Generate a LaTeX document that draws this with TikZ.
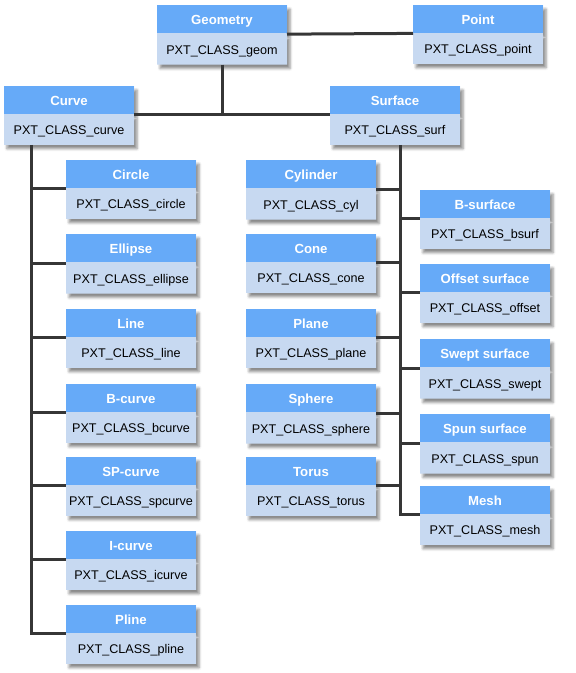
\documentclass[tikz,border=0pt]{standalone}
\usepackage{fontspec}
\setmainfont{Liberation Sans}
\usetikzlibrary{positioning,shapes.multipart,shadows.blur}

\definecolor{headblue}{RGB}{102,170,248}
\definecolor{bodyblue}{RGB}{199,217,241}
\definecolor{wiregray}{RGB}{54,54,54}
\newcommand{\headstrut}{\rule[-2pt]{0pt}{15pt}}
\newcommand{\bodystrut}{\rule[-3.5pt]{0pt}{17pt}}
\newcommand{\classlabel}[1]{{\color{black}\mdseries\fontsize{12.6}{15}\selectfont PXT\_CLASS\_#1}}

\begin{document}
\begin{tikzpicture}%
        [x=1pt,
        y=-1pt,
        wire/.style={draw=wiregray, line width=3pt},
        classbox/.style={rectangle split, rectangle split parts=2,
            fill=bodyblue, anchor=north west,
            minimum width=130pt, inner xsep=0pt, inner ysep=6.5pt, outer sep=0pt,
            text=white, font=\fontsize{13.2}{15}\selectfont\bfseries,
            path picture={\fill[headblue] (path picture bounding box.north west)
                rectangle ([yshift=-28pt]path picture bounding box.north east);},
            blur shadow={shadow xshift=3pt, shadow yshift=-4pt,
                shadow blur radius=2.5pt, shadow opacity=45}}]
    %
    \useasboundingbox (0,0) rectangle (576,673);
    %
    %% Top of the tree
    \node[classbox] (geom)  at (157,5)  {\headstrut Geometry\nodepart{two}\bodystrut\classlabel{geom}};
    \node[classbox] (point) at (413,5)  {\headstrut Point\nodepart{two}\bodystrut\classlabel{point}};
    \node[classbox] (curve) at (4,86)   {\headstrut Curve\nodepart{two}\bodystrut\classlabel{curve}};
    \node[classbox] (surf)  at (330,86) {\headstrut Surface\nodepart{two}\bodystrut\classlabel{surf}};
    %%
    %% Curves
    \node[classbox] (circ)    at (66,160) {\headstrut Circle\nodepart{two}\bodystrut\classlabel{circle}};
    \node[classbox] (ellip)   at (66,234) {\headstrut Ellipse\nodepart{two}\bodystrut\classlabel{ellipse}};
    \node[classbox] (line)    at (66,309) {\headstrut Line\nodepart{two}\bodystrut\classlabel{line}};
    \node[classbox] (bcurve)  at (66,384) {\headstrut B-curve\nodepart{two}\bodystrut\classlabel{bcurve}};
    \node[classbox] (spcurve) at (66,457) {\headstrut SP-curve\nodepart{two}\bodystrut\classlabel{spcurve}};
    \node[classbox] (icurve)  at (66,531) {\headstrut I-curve\nodepart{two}\bodystrut\classlabel{icurve}};
    \node[classbox] (pline)   at (66,605) {\headstrut Pline\nodepart{two}\bodystrut\classlabel{pline}};
    %%
    %% Analytic surfaces
    \node[classbox] (cyl)    at (246,160) {\headstrut Cylinder\nodepart{two}\bodystrut\classlabel{cyl}};
    \node[classbox] (cone)   at (246,234) {\headstrut Cone\nodepart{two}\bodystrut\classlabel{cone}};
    \node[classbox] (plane)  at (246,309) {\headstrut Plane\nodepart{two}\bodystrut\classlabel{plane}};
    \node[classbox] (sphere) at (246,384) {\headstrut Sphere\nodepart{two}\bodystrut\classlabel{sphere}};
    \node[classbox] (torus)  at (246,457) {\headstrut Torus\nodepart{two}\bodystrut\classlabel{torus}};
    %%
    %% Other surfaces
    \node[classbox] (bsurf)  at (420,190) {\headstrut B-surface\nodepart{two}\bodystrut\classlabel{bsurf}};
    \node[classbox] (offset) at (420,264) {\headstrut Offset surface\nodepart{two}\bodystrut\classlabel{offset}};
    \node[classbox] (swept)  at (420,339) {\headstrut Swept surface\nodepart{two}\bodystrut\classlabel{swept}};
    \node[classbox] (spun)   at (420,414) {\headstrut Spun surface\nodepart{two}\bodystrut\classlabel{spun}};
    \node[classbox] (mesh)   at (420,486) {\headstrut Mesh\nodepart{two}\bodystrut\classlabel{mesh}};
    %%
    %% Connectors
    \draw[wire] (geom.text split east) -- (point.text split west);
    \draw[wire] (geom.south) -- (geom.south |- curve.text split east);
    \draw[wire] (curve.text split east) -- (surf.text split west);
    %%
    \coordinate (curvetrunk) at ([xshift=27pt]curve.south west);
    \draw[wire] (curvetrunk) |- (pline.text split west);
    \foreach \n in {circ,ellip,line,bcurve,spcurve,icurve}
        \draw[wire] (curvetrunk |- \n.text split west) -- (\n.text split west);
    %%
    \coordinate (surftrunk) at ([xshift=70pt]surf.south west);
    \draw[wire] (surftrunk) |- (mesh.text split west);
    \foreach \n in {cyl,cone,plane,sphere,torus}
        \draw[wire] (surftrunk |- \n.text split east) -- (\n.text split east);
    \foreach \n in {bsurf,offset,swept,spun}
        \draw[wire] (surftrunk |- \n.text split west) -- (\n.text split west);
    %%
\end{tikzpicture}
\end{document}
